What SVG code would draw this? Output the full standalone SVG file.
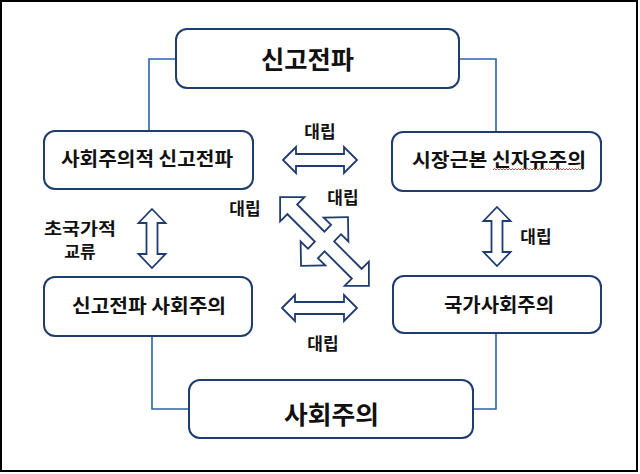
<svg xmlns="http://www.w3.org/2000/svg" width="640" height="474" viewBox="0 0 640 474">
<style>
.box{fill:#fff;stroke:#1f3c6e;stroke-width:2}
.con{fill:none;stroke:#2e62a8;stroke-width:1.6}
.arr{fill:#fff;stroke:#1f3c6e;stroke-width:1.8;stroke-linejoin:miter}
.t{font-family:"Noto Sans CJK KR","Noto Sans",sans-serif;font-weight:700;fill:#111;text-anchor:middle}
.n{font-size:19px}
.big{font-size:25px}
.lb{font-size:17px}
</style>
<rect x="0" y="0" width="640" height="474" fill="#fff"/>
<rect x="1" y="1" width="636" height="470" fill="none" stroke="#000" stroke-width="2"/>
<g id="connectors">
<path class="con" d="M176,59 H149 V131"/>
<path class="con" d="M459,59 H496 V132"/>
<path class="con" d="M152,336 V409 H189"/>
<path class="con" d="M496,333 V409 H473"/>
</g>
<g id="arrows">
<path class="arr" d="M283,160 l13,-13 v7 h48 v-7 l13,13 l-13,13 v-7 h-48 v7 z"/>
<path class="arr" d="M282,308 l13,-13 v7 h49 v-7 l13,13 l-13,13 v-7 h-49 v7 z"/>
<path class="arr" d="M152,209 l13.5,14 h-8 v31 h8 l-13.5,14 l-13.5,-14 h8 v-31 h-8 z"/>
<path class="arr" d="M497,207 l13.5,14 h-8 v31 h8 l-13.5,14 l-13.5,-14 h8 v-31 h-8 z"/>
<g id="cross">
<g stroke="#1f3c6e" stroke-width="3.6" fill="#fff" stroke-linejoin="miter">
<path transform="translate(324.5,241.5) rotate(45)" d="M-61.5,0 L-46.5,-15 L-46.5,-6 L46.5,-6 L46.5,-15 L61.5,0 L46.5,15 L46.5,6 L-46.5,6 L-46.5,15 Z"/>
<path transform="translate(324.5,241.5) rotate(-46)" d="M-32.5,0 L-17.5,-15 L-17.5,-6 L17.5,-6 L17.5,-15 L32.5,0 L17.5,15 L17.5,6 L-17.5,6 L-17.5,15 Z"/>
</g>
<g fill="#fff" stroke="none">
<path transform="translate(324.5,241.5) rotate(45)" d="M-61.5,0 L-46.5,-15 L-46.5,-6 L46.5,-6 L46.5,-15 L61.5,0 L46.5,15 L46.5,6 L-46.5,6 L-46.5,15 Z"/>
<path transform="translate(324.5,241.5) rotate(-46)" d="M-32.5,0 L-17.5,-15 L-17.5,-6 L17.5,-6 L17.5,-15 L32.5,0 L17.5,15 L17.5,6 L-17.5,6 L-17.5,15 Z"/>
</g>
</g>
</g>
<g id="node-top">
<rect class="box" x="176" y="29" width="283" height="59" rx="11"/>
<text class="t big" x="307.5" y="69" textLength="93" lengthAdjust="spacingAndGlyphs">신고전파</text>
</g>
<g id="node-left-top">
<rect class="box" x="44" y="131" width="209" height="58" rx="11"/>
<text class="t n" x="147" y="165.5" textLength="172" lengthAdjust="spacingAndGlyphs">사회주의적 신고전파</text>
</g>
<g id="node-right-top">
<rect class="box" x="392" y="132" width="209" height="59" rx="11"/>
<text class="t n" x="499" y="166.5" textLength="174" lengthAdjust="spacingAndGlyphs">시장근본 신자유주의</text>
<path fill="none" stroke="#e03030" stroke-width="0.9" d="M493,170 l1.5,-1.5 l1.5,1.5 l1.5,-1.5 l1.5,1.5 l1.5,-1.5 l1.5,1.5 l1.5,-1.5 l1.5,1.5 l1.5,-1.5 l1.5,1.5 l1.5,-1.5 l1.5,1.5 l1.5,-1.5 l1.5,1.5 l1.5,-1.5 l1.5,1.5 l1.5,-1.5 l1.5,1.5 l1.5,-1.5 l1.5,1.5 l1.5,-1.5 l1.5,1.5 l1.5,-1.5 l1.5,1.5 l1.5,-1.5 l1.5,1.5 l1.5,-1.5 l1.5,1.5 l1.5,-1.5 l1.5,1.5 l1.5,-1.5 l1.5,1.5 l1.5,-1.5 l1.5,1.5 l1.5,-1.5 l1.5,1.5 l1.5,-1.5 l1.5,1.5 l1.5,-1.5 l1.5,1.5 l1.5,-1.5 l1.5,1.5 l1.5,-1.5 l1.5,1.5 l1.5,-1.5 l1.5,1.5 l1.5,-1.5 l1.5,1.5 l1.5,-1.5 l1.5,1.5 l1.5,-1.5 l1.5,1.5 l1.5,-1.5 l1.5,1.5 l1.5,-1.5 l1.5,1.5 l1.5,-1.5 l1.5,1.5 l1.5,-1.5 l1.5,1.5"/>
</g>
<g id="node-left-bottom">
<rect class="box" x="44" y="277" width="208" height="59" rx="11"/>
<text class="t n" x="149" y="312.5" textLength="154" lengthAdjust="spacingAndGlyphs">신고전파 사회주의</text>
</g>
<g id="node-right-bottom">
<rect class="box" x="393" y="276" width="208" height="57" rx="11"/>
<text class="t n" x="499" y="311.5" textLength="110" lengthAdjust="spacingAndGlyphs">국가사회주의</text>
</g>
<g id="node-bottom">
<rect class="box" x="189" y="380" width="284" height="58" rx="11"/>
<text class="t big" x="331.5" y="424" textLength="95" lengthAdjust="spacingAndGlyphs">사회주의</text>
</g>
<g id="labels">
<text class="t lb" x="80" y="235" textLength="72" lengthAdjust="spacingAndGlyphs">초국가적</text>
<text class="t lb" x="80" y="258">교류</text>
<text class="t lb" x="320" y="138">대립</text>
<text class="t lb" x="245" y="215">대립</text>
<text class="t lb" x="343" y="204">대립</text>
<text class="t lb" x="536" y="243">대립</text>
<text class="t lb" x="323" y="350">대립</text>
</g>
</svg>
